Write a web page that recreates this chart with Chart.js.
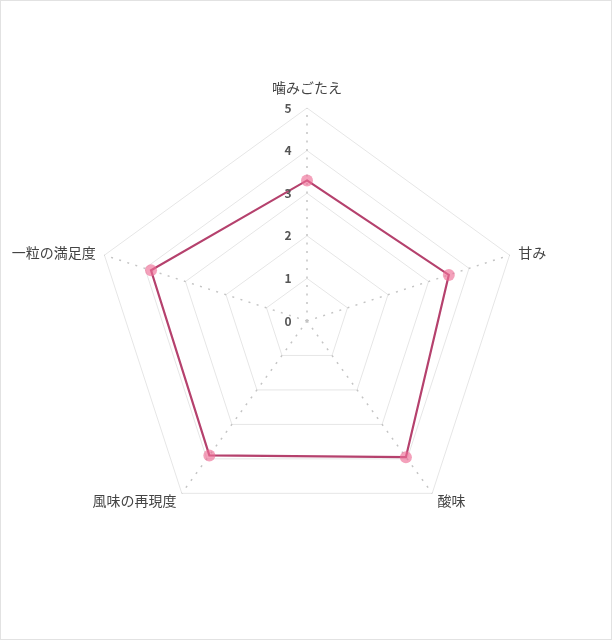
<!DOCTYPE html>
<html lang="ja">
<head>
<meta charset="utf-8">
<title>評価レーダー</title>
<script src="https://cdn.jsdelivr.net/npm/chart.js@4.4.1/dist/chart.umd.min.js"></script>
<style>
  html, body { margin: 0; padding: 0; background: #fff; }
  .wrap {
    width: 612px;
    height: 640px;
    box-sizing: border-box;
    border: 1px solid #e2e2e2;
  }
  canvas { display: block; }
</style>
</head>
<body>
<div class="wrap">
  <canvas id="radar" width="610" height="638"></canvas>
</div>
<script>
const categories = ['噛みごたえ', '甘み', '酸味', '風味の再現度', '一粒の満足度'];
const scores = [3.3, 3.5, 3.95, 3.9, 3.85];
const tickValues = [0, 1, 2, 3, 4, 5];

const JP_FONT = '"Noto Sans CJK JP", "Noto Sans", sans-serif';

// 目盛り数字と項目名は軸の位置から描く（数字は軸の左、項目名は頂点の外）
const radarText = {
  id: 'radarText',
  afterDraw(chart) {
    const scale = chart.scales.r;
    const ctx = chart.ctx;
    ctx.save();

    ctx.font = 'bold 12px ' + JP_FONT;
    ctx.fillStyle = '#555';
    ctx.textAlign = 'center';
    ctx.textBaseline = 'middle';
    tickValues.forEach(v => {
      const d = scale.getDistanceFromCenterForValue(v);
      ctx.fillText(String(v), scale.xCenter - 19, scale.yCenter - d);
    });

    ctx.font = '14px ' + JP_FONT;
    ctx.fillStyle = '#444';
    categories.forEach((name, i) => {
      const p = scale.getPointPosition(i, scale.drawingArea + 9);
      const deg = Math.round(scale.getIndexAngle(i) * 180 / Math.PI) % 360;
      let align = 'center';
      if (deg > 0 && deg < 180) align = 'left';
      if (deg > 180) align = 'right';
      ctx.textAlign = align;
      ctx.fillText(name, p.x, deg === 0 ? p.y - 11 : p.y);
    });
    ctx.restore();
  }
};

new Chart(document.getElementById('radar'), {
  type: 'radar',
  data: {
    labels: categories,
    datasets: [{
      label: '評価',
      data: scores,
      borderColor: '#b5416d',
      borderWidth: 2.2,
      backgroundColor: 'rgba(0,0,0,0)',
      fill: false,
      pointRadius: 6,
      pointBorderWidth: 0,
      pointBackgroundColor: 'rgba(238,110,150,0.65)',
      pointHoverRadius: 6
    }]
  },
  options: {
    responsive: false,
    animation: false,
    layout: { padding: { top: 107, bottom: 105, left: 2, right: 0 } },
    plugins: {
      legend: { display: false },
      tooltip: { enabled: false }
    },
    scales: {
      r: {
        min: 0,
        max: 5,
        afterBuildTicks: scale => {
          scale.ticks = tickValues.map(v => ({ value: v }));
        },
        ticks: { display: false, stepSize: 1 },
        grid: { color: '#e6e6e6', lineWidth: 1 },
        angleLines: {
          color: '#c4c4c4',
          lineWidth: 1.5,
          borderDash: [2, 6.5]
        },
        pointLabels: { display: false }
      }
    }
  },
  plugins: [radarText]
});
</script>
</body>
</html>
